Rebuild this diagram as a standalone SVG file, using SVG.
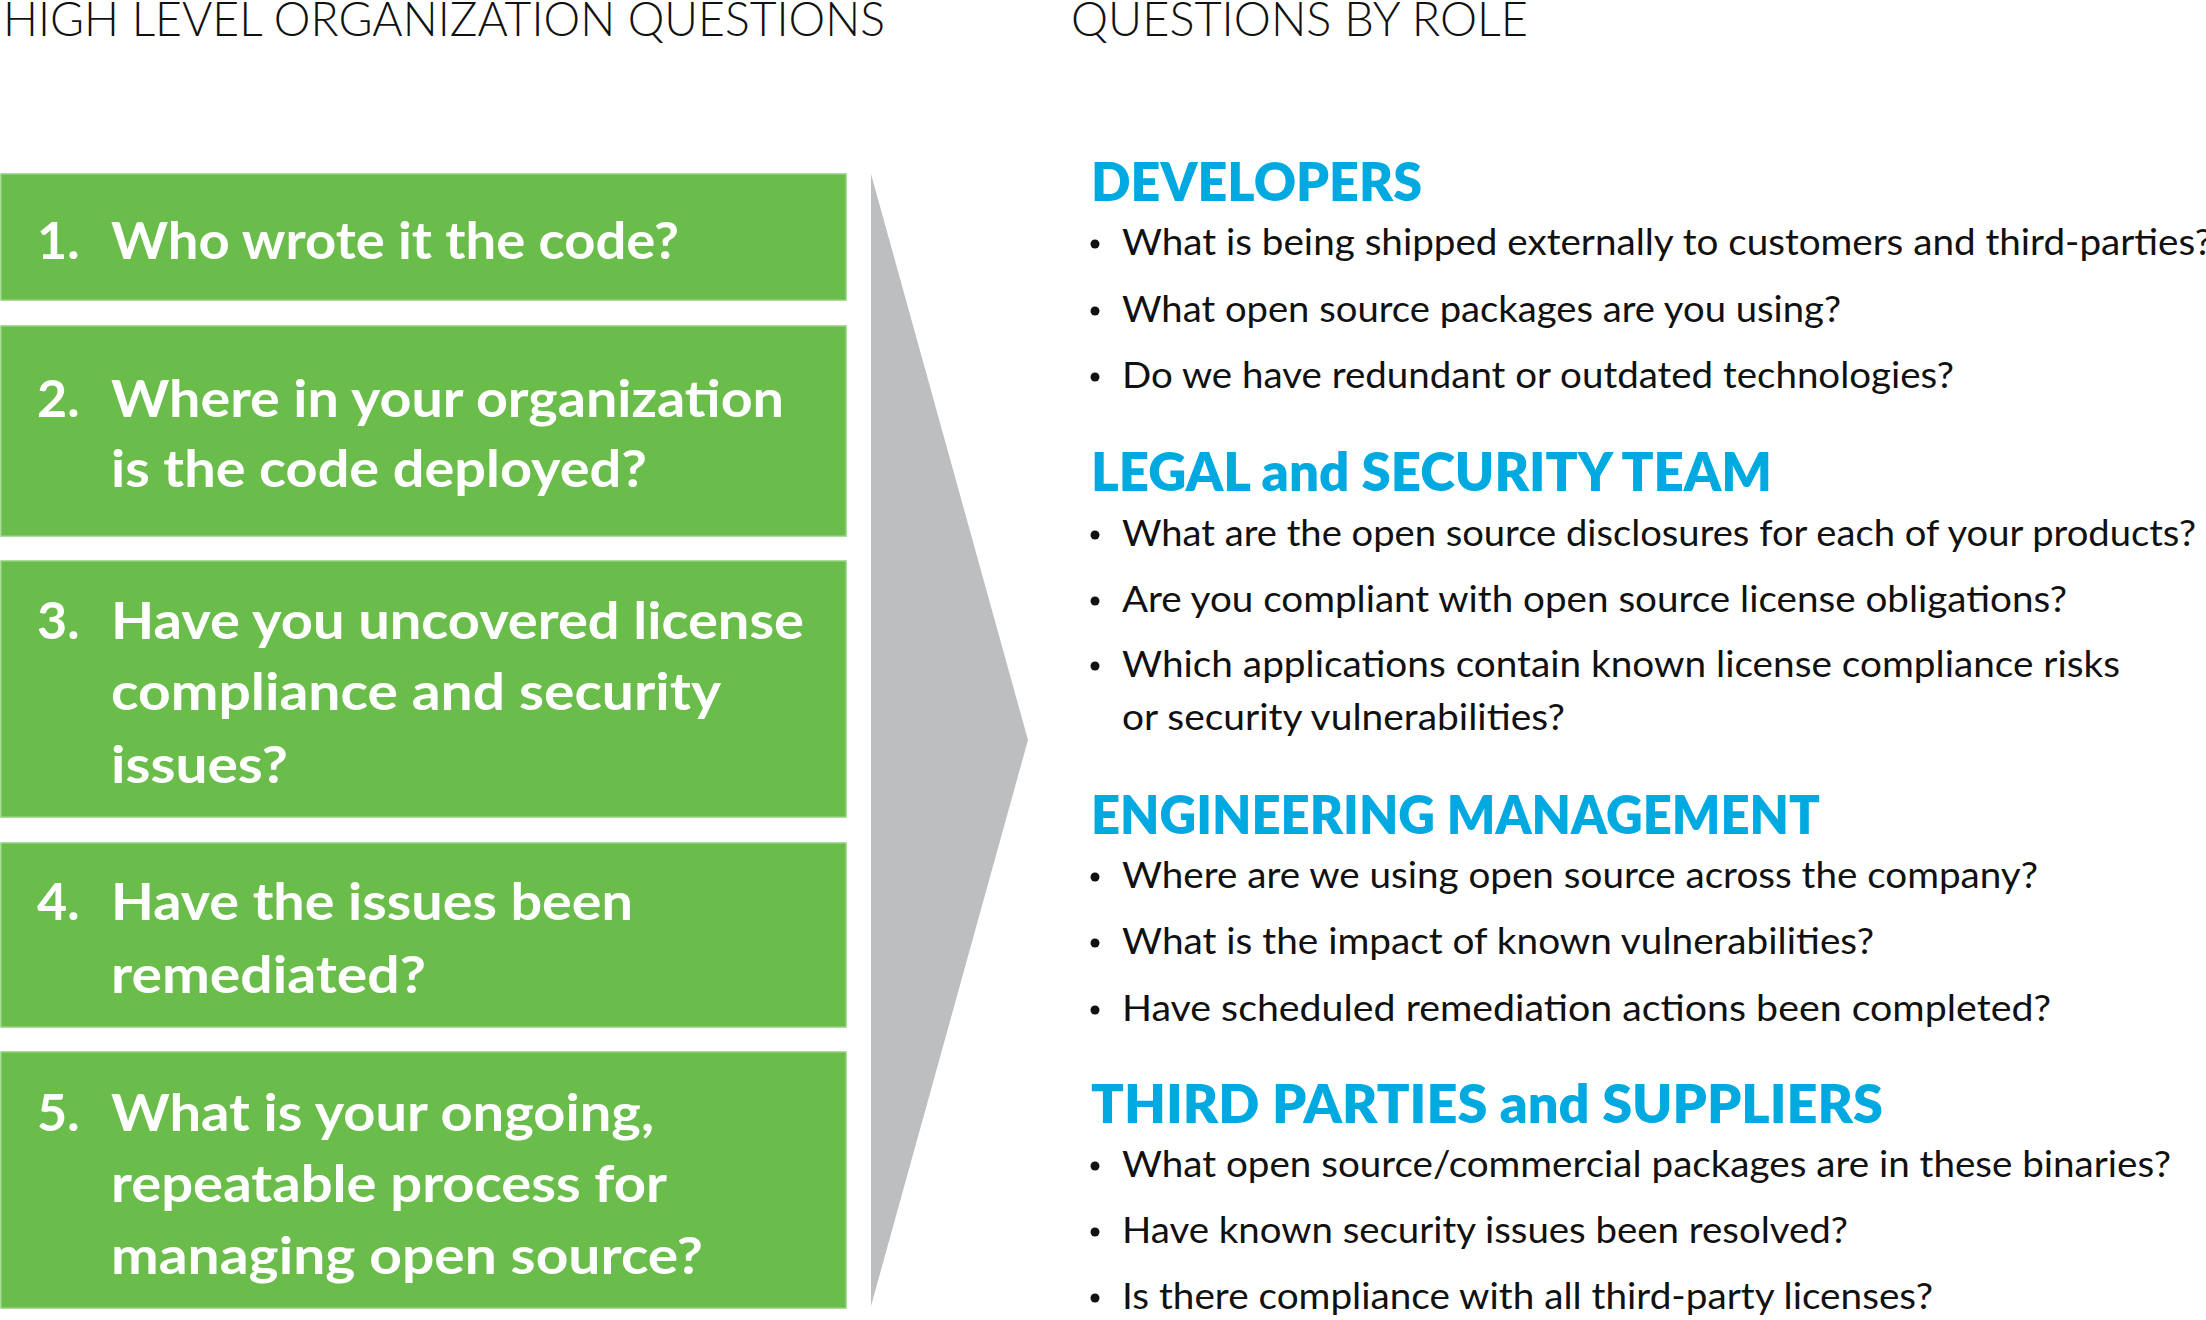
<svg xmlns="http://www.w3.org/2000/svg" width="2206" height="1320" viewBox="0 0 2206 1320">
<style>
.title{font-family:Lato,"Liberation Sans",sans-serif;font-weight:300;font-size:48px;fill:#111}
.box{fill:#6abd4b;stroke:#8fd27a;stroke-width:1.5}
.q{font-family:Lato,"Liberation Sans",sans-serif;font-weight:700;font-size:52px;fill:#fff}
.h{font-family:Lato,"Liberation Sans",sans-serif;font-weight:800;font-size:52px;fill:#00a9e0}
.b{font-family:Lato,"Liberation Sans",sans-serif;font-weight:400;font-size:37px;fill:#111}
.dot{fill:#111}
</style>
<rect width="2206" height="1320" fill="#fff"/>
<text class="title" x="3" y="36" textLength="882" lengthAdjust="spacingAndGlyphs">HIGH LEVEL ORGANIZATION QUESTIONS</text>
<text class="title" x="1071" y="36" textLength="457" lengthAdjust="spacingAndGlyphs">QUESTIONS BY ROLE</text>

<g id="connectors">
<polygon points="871,174 1028,740 871,1306" fill="#bcbec0"/>
</g>

<g id="q1">
<rect class="box" x="1" y="174" width="845" height="126"/>
<text class="q" x="37" y="259">1.</text>
<text class="q" x="111" y="259" textLength="568" lengthAdjust="spacingAndGlyphs">Who wrote it the code?</text>
</g>
<g id="q2">
<rect class="box" x="1" y="326" width="845" height="210"/>
<text class="q" x="37" y="417">2.</text>
<text class="q" x="111" y="417" textLength="673" lengthAdjust="spacingAndGlyphs">Where in your organization</text>
<text class="q" x="111" y="487" textLength="536" lengthAdjust="spacingAndGlyphs">is the code deployed?</text>
</g>
<g id="q3">
<rect class="box" x="1" y="561" width="845" height="256"/>
<text class="q" x="37" y="639">3.</text>
<text class="q" x="111" y="639" textLength="693" lengthAdjust="spacingAndGlyphs">Have you uncovered license</text>
<text class="q" x="111" y="710" textLength="610" lengthAdjust="spacingAndGlyphs">compliance and security</text>
<text class="q" x="111" y="783" textLength="177" lengthAdjust="spacingAndGlyphs">issues?</text>
</g>
<g id="q4">
<rect class="box" x="1" y="843" width="845" height="184"/>
<text class="q" x="37" y="920">4.</text>
<text class="q" x="111" y="920" textLength="522" lengthAdjust="spacingAndGlyphs">Have the issues been</text>
<text class="q" x="111" y="993" textLength="315" lengthAdjust="spacingAndGlyphs">remediated?</text>
</g>
<g id="q5">
<rect class="box" x="1" y="1052" width="845" height="256"/>
<text class="q" x="37" y="1131">5.</text>
<text class="q" x="111" y="1131" textLength="543" lengthAdjust="spacingAndGlyphs">What is your ongoing,</text>
<text class="q" x="111" y="1202" textLength="556" lengthAdjust="spacingAndGlyphs">repeatable process for</text>
<text class="q" x="111" y="1274" textLength="592" lengthAdjust="spacingAndGlyphs">managing open source?</text>
</g>

<g id="developers">
<text class="h" x="1091" y="201" textLength="331" lengthAdjust="spacingAndGlyphs">DEVELOPERS</text>
<circle class="dot" cx="1095" cy="244" r="4.5"/>
<text class="b" x="1122" y="255" textLength="1090" lengthAdjust="spacingAndGlyphs">What is being shipped externally to customers and third-parties?</text>
<circle class="dot" cx="1095" cy="311" r="4.5"/>
<text class="b" x="1122" y="322" textLength="719" lengthAdjust="spacingAndGlyphs">What open source packages are you using?</text>
<circle class="dot" cx="1095" cy="377" r="4.5"/>
<text class="b" x="1122" y="388" textLength="832" lengthAdjust="spacingAndGlyphs">Do we have redundant or outdated technologies?</text>
</g>

<g id="legal">
<text class="h" x="1091" y="491" textLength="681" lengthAdjust="spacingAndGlyphs">LEGAL and SECURITY TEAM</text>
<circle class="dot" cx="1095" cy="535" r="4.5"/>
<text class="b" x="1122" y="546" textLength="1074" lengthAdjust="spacingAndGlyphs">What are the open source disclosures for each of your products?</text>
<circle class="dot" cx="1095" cy="601" r="4.5"/>
<text class="b" x="1122" y="612" textLength="945" lengthAdjust="spacingAndGlyphs">Are you compliant with open source license obligations?</text>
<circle class="dot" cx="1095" cy="666" r="4.5"/>
<text class="b" x="1122" y="677" textLength="998" lengthAdjust="spacingAndGlyphs">Which applications contain known license compliance risks</text>
<text class="b" x="1122" y="730" textLength="443" lengthAdjust="spacingAndGlyphs">or security vulnerabilities?</text>
</g>

<g id="engineering">
<text class="h" x="1091" y="834" textLength="729" lengthAdjust="spacingAndGlyphs">ENGINEERING MANAGEMENT</text>
<circle class="dot" cx="1095" cy="877" r="4.5"/>
<text class="b" x="1122" y="888" textLength="916" lengthAdjust="spacingAndGlyphs">Where are we using open source across the company?</text>
<circle class="dot" cx="1095" cy="943" r="4.5"/>
<text class="b" x="1122" y="954" textLength="752" lengthAdjust="spacingAndGlyphs">What is the impact of known vulnerabilities?</text>
<circle class="dot" cx="1095" cy="1010" r="4.5"/>
<text class="b" x="1122" y="1021" textLength="929" lengthAdjust="spacingAndGlyphs">Have scheduled remediation actions been completed?</text>
</g>

<g id="third-parties">
<text class="h" x="1091" y="1123" textLength="792" lengthAdjust="spacingAndGlyphs">THIRD PARTIES and SUPPLIERS</text>
<circle class="dot" cx="1095" cy="1166" r="4.5"/>
<text class="b" x="1122" y="1177" textLength="1049" lengthAdjust="spacingAndGlyphs">What open source/commercial packages are in these binaries?</text>
<circle class="dot" cx="1095" cy="1232" r="4.5"/>
<text class="b" x="1122" y="1243" textLength="726" lengthAdjust="spacingAndGlyphs">Have known security issues been resolved?</text>
<circle class="dot" cx="1095" cy="1298" r="4.5"/>
<text class="b" x="1122" y="1309" textLength="811" lengthAdjust="spacingAndGlyphs">Is there compliance with all third-party licenses?</text>
</g>
</svg>
